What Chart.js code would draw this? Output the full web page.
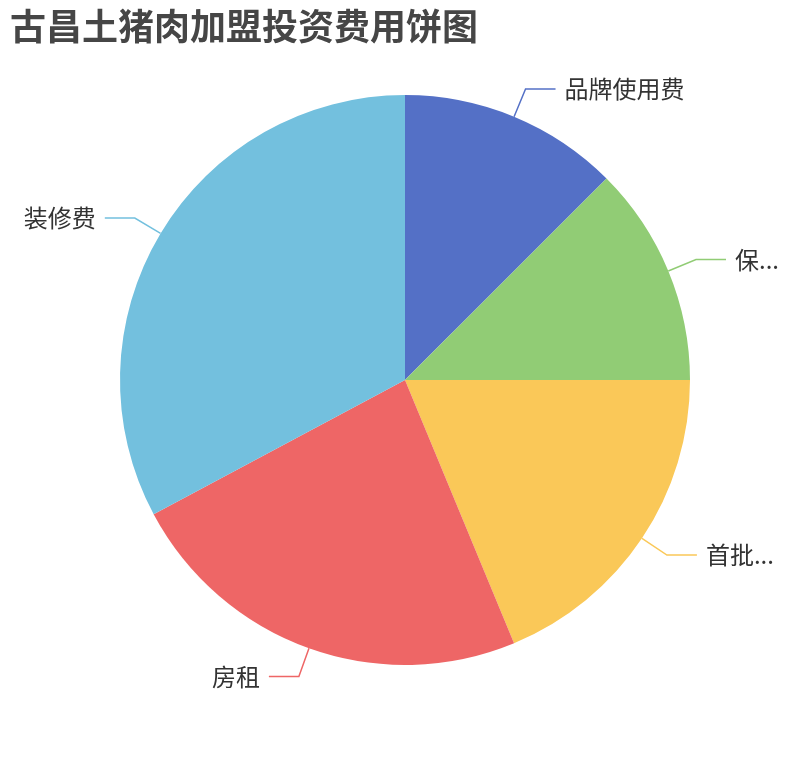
<!DOCTYPE html>
<html>
<head>
<meta charset="utf-8">
<script src="https://cdn.jsdelivr.net/npm/chart.js@4/dist/chart.umd.min.js"></script>
<style>
  body { margin: 0; background: #fff; }
  #wrap { width: 810px; height: 760px; }
</style>
</head>
<body>
<div id="wrap"><canvas id="grafico" width="810" height="760"></canvas></div>
<script>
// datos del gráfico
const TITULO = '古昌土猪肉加盟投资费用饼图';
const categorias = ['品牌使用费', '保证金', '首批进货费', '房租', '装修费'];
const etiquetas = ['品牌使用费', '保...', '首批...', '房租', '装修费'];
const valores = [8, 8, 12, 15, 21];
const colores = ['#5470c6', '#91cc75', '#fac858', '#ee6666', '#73c0de'];

const FUENTE = '"Noto Sans CJK SC", "Noto Sans", sans-serif';

// titulo y etiquetas con lineas guia, al estilo echarts
const etiquetasPie = {
  id: 'etiquetasPie',
  afterDraw(chart) {
    const c = chart.ctx;
    c.save();
    c.fillStyle = '#464646';
    c.font = 'bold 36px ' + FUENTE;
    c.textAlign = 'left';
    c.textBaseline = 'middle';
    c.fillText(TITULO, 10, 26);

    const arcos = chart.getDatasetMeta(0).data;
    arcos.forEach((arco, i) => {
      const p = arco.getProps(['x', 'y', 'startAngle', 'endAngle', 'outerRadius'], true);
      const medio = (p.startAngle + p.endAngle) / 2;
      const cos = Math.cos(medio), sin = Math.sin(medio);
      const x0 = p.x + p.outerRadius * cos, y0 = p.y + p.outerRadius * sin;
      const x1 = p.x + (p.outerRadius + 30) * cos, y1 = p.y + (p.outerRadius + 30) * sin;
      const der = cos >= 0;
      const x2 = x1 + (der ? 30 : -30);
      c.strokeStyle = colores[i];
      c.lineWidth = 1.5;
      c.beginPath();
      c.moveTo(x0, y0);
      c.lineTo(x1, y1);
      c.lineTo(x2, y1);
      c.stroke();
      c.fillStyle = '#333';
      c.font = '24px ' + FUENTE;
      c.textAlign = der ? 'left' : 'right';
      c.fillText(etiquetas[i], x2 + (der ? 9 : -9), y1);
    });
    c.restore();
  }
};

new Chart(document.getElementById('grafico'), {
  type: 'pie',
  data: {
    labels: categorias,
    datasets: [{
      data: valores,
      backgroundColor: colores,
      borderWidth: 0
    }]
  },
  options: {
    responsive: false,
    animation: false,
    layout: { padding: { left: 120, right: 120, top: 95, bottom: 95 } },
    plugins: {
      legend: { display: false },
      tooltip: { enabled: false }
    }
  },
  plugins: [etiquetasPie]
});
</script>
</body>
</html>
